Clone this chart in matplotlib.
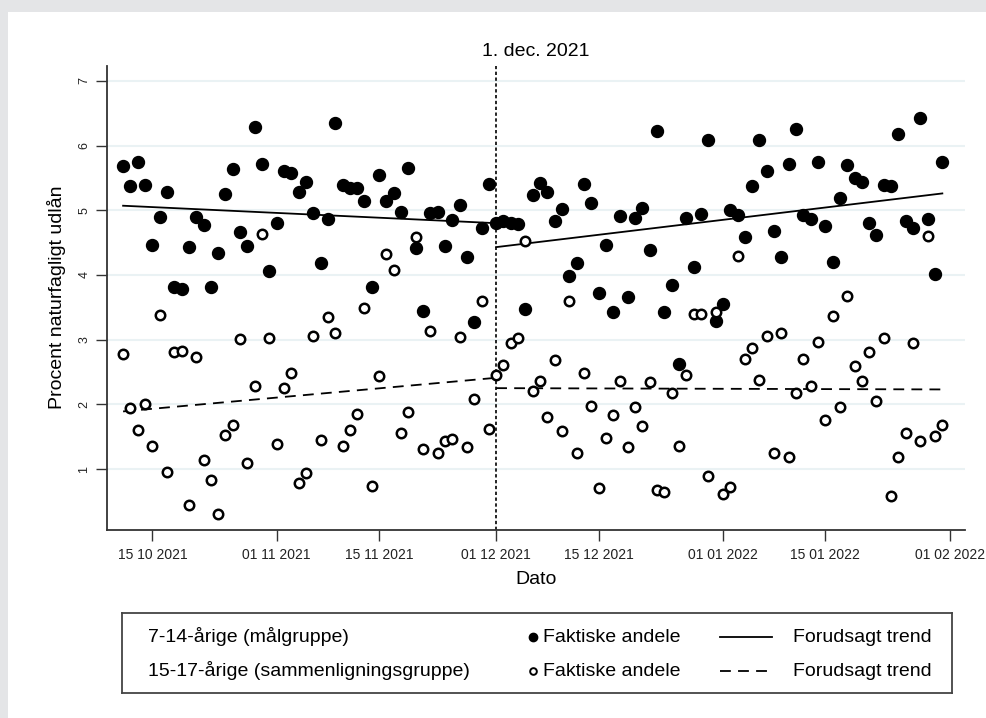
import matplotlib
matplotlib.use("Agg")
import matplotlib.pyplot as plt
import matplotlib.dates as mdates
from matplotlib.patches import Rectangle
from matplotlib.lines import Line2D
import numpy as np
import pandas as pd

plt.rcParams['font.family'] = ['Liberation Sans', 'DejaVu Sans']

# daily shares, 11 Oct 2021 - 31 Jan 2022
dates = pd.date_range("2021-10-11", "2022-01-31", freq="D")

maal = [5.69, 5.38, 5.74, 5.39, 4.46, 4.89, 5.28, 3.82, 3.78, 4.43,
        4.89, 4.77, 3.82, 4.34, 5.25, 5.63, 4.66, 4.45, 6.29, 5.72,
        4.06, 4.80, 5.60, 5.58, 5.28, 5.43, 4.96, 4.19, 4.87, 6.35,
        5.39, 5.35, 5.35, 5.15, 3.82, 5.54, 5.14, 5.27, 4.97, 5.65,
        4.42, 3.44, 4.95, 4.98, 4.45, 4.85, 5.08, 4.27, 3.27, 4.72,
        5.40, 4.81, 4.83, 4.80, 4.79, 3.47, 5.23, 5.42, 5.28, 4.83,
        5.02, 3.98, 4.19, 5.40, 5.11, 3.72, 4.47, 3.43, 4.91, 3.66,
        4.88, 5.03, 4.38, 6.23, 3.42, 3.85, 2.62, 4.88, 4.12, 4.94,
        6.08, 3.29, 3.55, 5.01, 4.92, 4.58, 5.38, 6.08, 5.60, 4.68,
        4.28, 5.71, 6.26, 4.92, 4.87, 5.74, 4.76, 4.20, 5.19, 5.70,
        5.50, 5.43, 4.81, 4.61, 5.39, 5.37, 6.18, 4.83, 4.73, 6.43,
        4.87, 4.02, 5.74]

sammen = [2.78, 1.95, 1.61, 2.00, 1.35, 3.38, 0.96, 2.81, 2.82, 0.44,
          2.73, 1.14, 0.83, 0.30, 1.52, 1.68, 3.01, 1.10, 2.29, 4.64,
          3.02, 1.39, 2.25, 2.48, 0.78, 0.94, 3.05, 1.45, 3.35, 3.11,
          1.35, 1.61, 1.85, 3.49, 0.74, 2.44, 4.33, 4.08, 1.56, 1.88,
          4.59, 1.31, 3.14, 1.25, 1.44, 1.47, 3.04, 1.34, 2.08, 3.60,
          1.62, 2.46, 2.61, 2.95, 3.02, 4.52, 2.21, 2.36, 1.80, 2.68,
          1.58, 3.59, 1.25, 2.49, 1.97, 0.70, 1.48, 1.83, 2.36, 1.34,
          1.96, 1.66, 2.34, 0.68, 0.65, 2.18, 1.35, 2.45, 3.40, 3.40,
          0.89, 3.42, 0.61, 0.72, 4.29, 2.70, 2.87, 2.37, 3.05, 1.25,
          3.10, 1.18, 2.17, 2.70, 2.29, 2.96, 1.76, 3.36, 1.96, 3.68,
          2.60, 2.36, 2.81, 2.05, 3.03, 0.59, 1.18, 1.55, 2.95, 1.44,
          4.60, 1.51, 1.68]

# predicted trend, value at start and end of each period
cut = pd.Timestamp("2021-12-01")
pre_x = [dates[0], cut]
post_x = [cut, dates[-1]]
trend_maal_pre = [5.07, 4.80]
trend_maal_post = [4.43, 5.26]
trend_sammen_pre = [1.89, 2.41]
trend_sammen_post = [2.25, 2.23]

ticks = pd.to_datetime(["2021-10-15", "2021-11-01", "2021-11-15", "2021-12-01",
                        "2021-12-15", "2022-01-01", "2022-01-15", "2022-02-01"])

W, H = 986, 718
fig = plt.figure(figsize=(W / 100, H / 100), dpi=100)
fig.patch.set_facecolor("#e4e5e7")
fig.patches.append(Rectangle((8 / W, 0), 1, 1 - 12 / H, transform=fig.transFigure,
                             facecolor="white", edgecolor="none", zorder=-10))

ax = fig.add_axes([107 / W, 1 - 530 / H, (965 - 107) / W, (530 - 66) / H])
ax.set_facecolor("none")

ax.plot(dates, maal, 'o', color='black', ms=8.6, zorder=3)
ax.plot(dates, sammen, 'o', mfc='white', mec='black', ms=6.8, mew=1.8, zorder=3)
ax.plot(pre_x, trend_maal_pre, '-', color='black', lw=1.3, zorder=2)
ax.plot(post_x, trend_maal_post, '-', color='black', lw=1.3, zorder=2)
ax.plot(pre_x, trend_sammen_pre, color='black', lw=1.3, dashes=(6, 4), zorder=2)
ax.plot(post_x, trend_sammen_post, color='black', lw=1.3, dashes=(6, 4), zorder=2)

ax.axvline(cut, ymin=0, ymax=1.0, color='black', lw=1.2, ls=(0, (2, 1.5)), zorder=2)
fig.text(536 / W, 1 - 51 / H, "1. dec. 2021", ha='center', va='center', fontsize=14)

ax.set_xlim(mdates.date2num(pd.Timestamp("2021-10-15")) - 6.2,
            mdates.date2num(pd.Timestamp("2021-10-15")) + 111.1)
ax.set_ylim(0.057, 7.23)
ax.set_yticks([1, 2, 3, 4, 5, 6, 7])
ax.set_xticks(ticks)
ax.xaxis.set_major_formatter(mdates.DateFormatter("%d %m %Y"))
ax.grid(axis='y', color='#eaf2f4', lw=1.5, zorder=0)
ax.tick_params(axis='both', length=8, width=1, color='#333333', labelsize=10,
               labelcolor='#222222')
ax.tick_params(axis='x', pad=5)
ax.tick_params(axis='y', pad=4, labelsize=9)
for lab in ax.get_yticklabels():
    lab.set_rotation(90)
    lab.set_va('center')
for s in ['top', 'right']:
    ax.spines[s].set_visible(False)
for s in ['left', 'bottom']:
    ax.spines[s].set_color('#333333')
    ax.spines[s].set_linewidth(1.3)

fig.text(536 / W, 1 - 579 / H, "Dato", ha='center', va='center', fontsize=14)
fig.text(57 / W, 1 - 297 / H, "Procent naturfagligt udlån", ha='center', va='center',
         fontsize=14, rotation=90)

# legend box
lg = fig.add_axes([122 / W, 1 - 693 / H, (952 - 122) / W, (693 - 613) / H])
lg.set_xlim(122, 952)
lg.set_ylim(693, 613)
lg.set_xticks([])
lg.set_yticks([])
lg.set_facecolor("white")
for s in lg.spines.values():
    s.set_color('#444444')
    s.set_linewidth(1.3)
rows = [(637, "7-14-årige (målgruppe)", True, '-'),
        (671, "15-17-årige (sammenligningsgruppe)", False, '--')]
for yy, name, filled, ls in rows:
    lg.text(148, yy, name, va='center', ha='left', fontsize=14)
    if filled:
        lg.plot([533], [yy], 'o', color='black', ms=6)
    else:
        lg.plot([533], [yy], 'o', mfc='white', mec='black', ms=4.8, mew=1.4)
    lg.text(543, yy, "Faktiske andele", va='center', ha='left', fontsize=14)
    if ls == '-':
        lg.add_line(Line2D([720, 772], [yy, yy], color='black', lw=1.3))
    else:
        lg.add_line(Line2D([720, 772], [yy, yy], color='black', lw=1.3, dashes=(6, 4)))
    lg.text(793, yy, "Forudsagt trend", va='center', ha='left', fontsize=14)

fig.savefig("out.png", dpi=100)
